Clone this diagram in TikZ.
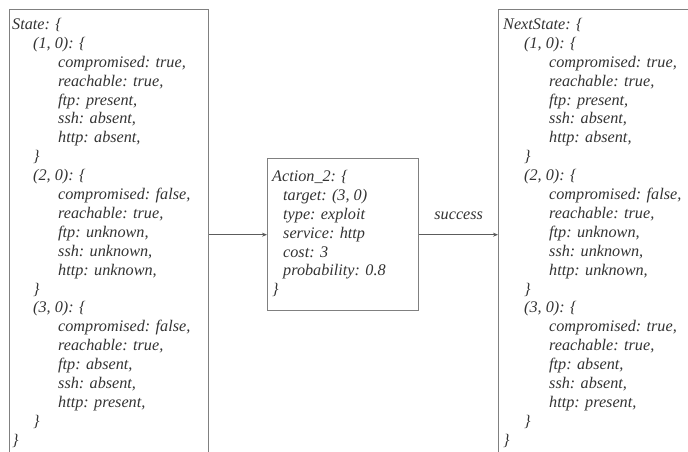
\documentclass[tikz,border=0pt]{standalone}
\usepackage{fontspec}
\setmainfont{Liberation Serif}
\usetikzlibrary{arrows.meta}
\definecolor{txt}{HTML}{333333}
\definecolor{edge}{HTML}{808080}
\begin{document}
\begin{tikzpicture}[x=1pt,y=-1pt,
  box/.style={draw=edge, line width=1.4pt, inner sep=0pt, anchor=north west},
  code/.style={text=txt, inner sep=0pt, anchor=north west, align=left,
    font=\fontsize{16.2}{18.9}\selectfont\itshape},
  conn/.style={draw=txt!80, line width=0.7pt, -{Stealth[length=5pt,width=4pt]}}]
\useasboundingbox (0,0) rectangle (688,452);
\node[box, minimum width=199pt, minimum height=480pt] (L) at (9,9) {};
\node[box, minimum width=240pt, minimum height=480pt] (R) at (498,9) {};
\node[box, minimum width=151pt, minimum height=152pt] (M) at (267,158) {};
\newcommand{\iA}{\hspace*{21pt}}
\newcommand{\iB}{\hspace*{46pt}}
\node[code] (Lt) at (12,18) {State: \{\\
\iA(1, 0): \{\\
\iB compromised: true,\\
\iB reachable: true,\\
\iB ftp: present,\\
\iB ssh: absent,\\
\iB http: absent,\\
\iA\}\\
\iA(2, 0): \{\\
\iB compromised: false,\\
\iB reachable: true,\\
\iB ftp: unknown,\\
\iB ssh: unknown,\\
\iB http: unknown,\\
\iA\}\\
\iA(3, 0): \{\\
\iB compromised: false,\\
\iB reachable: true,\\
\iB ftp: absent,\\
\iB ssh: absent,\\
\iB http: present,\\
\iA\}\\
\}};
\node[code] (Rt) at (503,18) {NextState: \{\\
\iA(1, 0): \{\\
\iB compromised: true,\\
\iB reachable: true,\\
\iB ftp: present,\\
\iB ssh: absent,\\
\iB http: absent,\\
\iA\}\\
\iA(2, 0): \{\\
\iB compromised: false,\\
\iB reachable: true,\\
\iB ftp: unknown,\\
\iB ssh: unknown,\\
\iB http: unknown,\\
\iA\}\\
\iA(3, 0): \{\\
\iB compromised: true,\\
\iB reachable: true,\\
\iB ftp: absent,\\
\iB ssh: absent,\\
\iB http: present,\\
\iA\}\\
\}};
\node[code] (Mt) at (272,170) {Action\_2: \{\\
\hspace*{11pt}target: (3, 0)\\
\hspace*{11pt}type: exploit\\
\hspace*{11pt}service: http\\
\hspace*{11pt}cost: 3\\
\hspace*{11pt}probability: 0.8\\
\}};
\draw[conn] (L.east |- M.west) -- (M.west);
\draw[conn] (M.east) -- node[above=11pt, text=txt, font=\fontsize{16.2}{19.1}\selectfont\itshape] {success} (R.west |- M.east);
\end{tikzpicture}
\end{document}
